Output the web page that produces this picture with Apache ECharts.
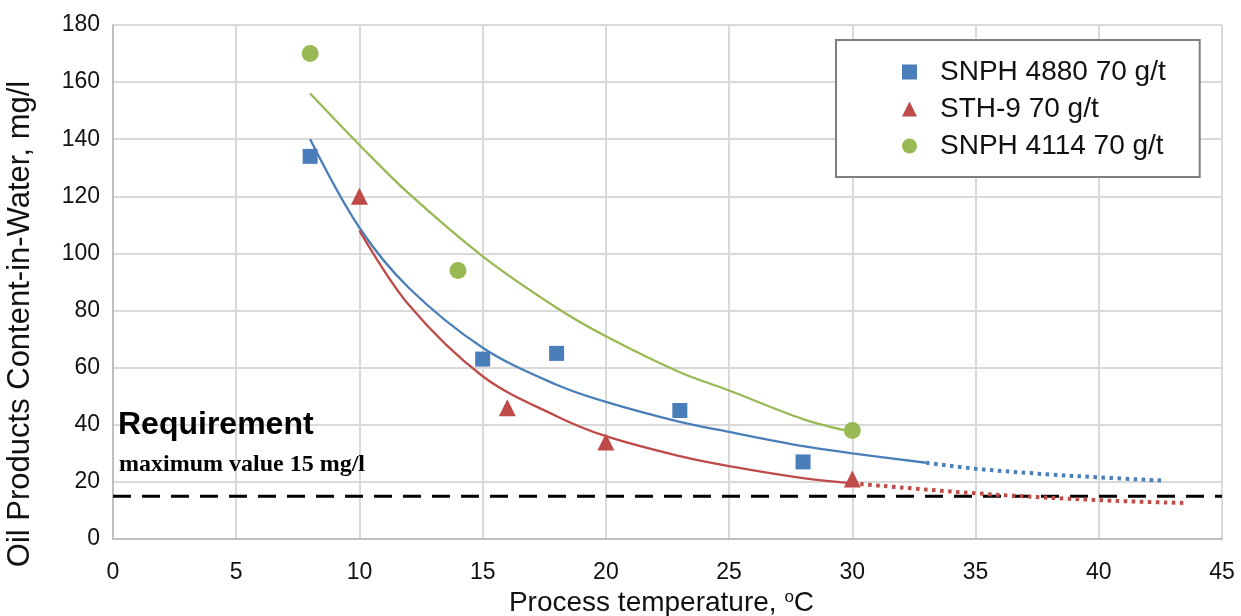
<!DOCTYPE html>
<html>
<head>
<meta charset="utf-8">
<script src="https://cdn.jsdelivr.net/npm/echarts@6/dist/echarts.min.js"></script>
<style>
html,body{margin:0;padding:0;background:#fff;}
#chart{width:1241px;height:616px;}
</style>
</head>
<body>
<div id="chart"></div>
<script>
// ---- data ----
const seriesNames = ['SNPH 4880 70 g/t', 'STH-9 70 g/t', 'SNPH 4114 70 g/t'];
const blueX = [8, 15, 18, 23, 28];
const blueY = [134, 63, 65, 45, 27];
const redX = [10, 16, 20, 30];
const redY = [120, 46, 34, 21];
const greenX = [8, 14, 30];
const greenY = [170, 94, 38];

// trend curves (x, y)
const blueTrendX = [8, 10, 12, 15, 18, 20, 23, 25, 28, 30, 33];
const blueTrendY = [140, 109, 88, 67, 54, 48, 41, 37.5, 32.5, 30, 26.7];
const blueTrendExtX = [33, 35, 38, 40, 42.7];
const blueTrendExtY = [26.7, 24.6, 22.6, 21.6, 20.4];

const redTrendX = [10, 12, 15, 18, 20, 23, 25, 28, 30];
const redTrendY = [108, 82, 57, 43, 36, 29, 25.5, 21.3, 19.5];
const redTrendExtX = [30, 35, 40, 43.6];
const redTrendExtY = [19.5, 16, 13.6, 12.6];

const greenTrendX = [8, 10, 12, 15, 18, 20, 23, 25, 28, 30];
const greenTrendY = [156, 138, 121, 99, 81, 71, 58.4, 52, 42, 37.5];

const limitX = [0, 45];
const limitY = [15, 15];

const xTicks = {min: 0, max: 45, interval: 5};
const yTicks = {min: 0, max: 180, interval: 20};

const xTitle = 'Process temperature, {sup|o}C';
const yTitle = 'Oil Products Content-in-Water, mg/l';
const noteLine1 = 'Requirement';
const noteLine2 = 'maximum value 15 mg/l';

// ---- helpers ----
const zip = (xs, ys) => xs.map((x, i) => [x, ys[i]]);
const colors = {blue: '#4A7EBB', red: '#BE4B48', green: '#98B954'};
const FONT = 'Liberation Sans, Arial, sans-serif';

const chart = echarts.init(document.getElementById('chart'), null, {renderer: 'canvas'});

function trend(name, xs, ys, color, dotted) {
  return {
    name: name,
    type: 'line',
    data: zip(xs, ys),
    smooth: 0.35,
    showSymbol: false,
    symbol: 'none',
    silent: true,
    z: 2,
    lineStyle: dotted
      ? {color: color, width: 4, type: [3.5, 4.5], cap: 'butt'}
      : {color: color, width: 2.3}
  };
}

const option = {
  backgroundColor: '#ffffff',
  animation: false,
  grid: {left: 113, right: 19, top: 25, bottom: 77, containLabel: false, outerBoundsMode: 'none'},
  legend: {
    data: [
      {name: seriesNames[0], icon: 'rect'},
      {name: seriesNames[1], icon: 'triangle'},
      {name: seriesNames[2], icon: 'circle'}
    ],
    orient: 'vertical',
    left: 836,
    top: 40,
    itemWidth: 15,
    itemHeight: 15,
    itemGap: 9,
    padding: [18, 34, 17, 66],
    borderColor: '#7f7f7f',
    borderWidth: 2,
    backgroundColor: '#ffffff',
    textStyle: {fontFamily: FONT, fontSize: 28, color: '#111', padding: [0, 0, 0, 18]}
  },
  xAxis: {
    type: 'value',
    min: xTicks.min, max: xTicks.max, interval: xTicks.interval,
    name: xTitle,
    nameLocation: 'middle',
    nameGap: 42,
    nameTextStyle: {
      fontFamily: FONT, fontSize: 28, color: '#111', padding: [0, 12, 0, 0],
      rich: {sup: {fontFamily: FONT, fontSize: 17, color: '#111', verticalAlign: 'top', padding: [0, 0, 10, 0]}}
    },
    axisLine: {show: true, lineStyle: {color: '#bfbfbf', width: 2}},
    axisTick: {show: false},
    axisLabel: {fontFamily: FONT, fontSize: 23, color: '#111', margin: 22},
    splitLine: {show: true, lineStyle: {color: '#d9d9d9', width: 2}}
  },
  yAxis: {
    type: 'value',
    min: yTicks.min, max: yTicks.max, interval: yTicks.interval,
    name: yTitle,
    nameLocation: 'middle',
    nameGap: 77,
    nameTextStyle: {fontFamily: FONT, fontSize: 31, color: '#111', padding: [0, 84, 0, 0]},
    axisLine: {show: true, lineStyle: {color: '#bfbfbf', width: 2}},
    axisTick: {show: false},
    axisLabel: {fontFamily: FONT, fontSize: 23, color: '#111', margin: 13},
    splitLine: {show: true, lineStyle: {color: '#d9d9d9', width: 2}}
  },
  series: [
    {
      name: 'limit', type: 'line', data: zip(limitX, limitY),
      symbol: 'none', silent: true, z: 1,
      lineStyle: {color: '#000', width: 3, type: [18, 11], cap: 'butt'}
    },
    trend('trend-blue', blueTrendX, blueTrendY, colors.blue, false),
    trend('trend-blue-ext', blueTrendExtX, blueTrendExtY, colors.blue, true),
    trend('trend-red', redTrendX, redTrendY, colors.red, false),
    trend('trend-red-ext', redTrendExtX, redTrendExtY, colors.red, true),
    trend('trend-green', greenTrendX, greenTrendY, colors.green, false),
    {
      name: seriesNames[0], type: 'scatter', data: zip(blueX, blueY),
      symbol: 'rect', symbolSize: 15, z: 5,
      itemStyle: {color: colors.blue, opacity: 1}
    },
    {
      name: seriesNames[1], type: 'scatter', data: zip(redX, redY),
      symbol: 'triangle', symbolSize: 17, z: 5,
      itemStyle: {color: colors.red, opacity: 1}
    },
    {
      name: seriesNames[2], type: 'scatter', data: zip(greenX, greenY),
      symbol: 'circle', symbolSize: 17, z: 5,
      itemStyle: {color: colors.green, opacity: 1}
    }
  ],
  graphic: [
    {
      type: 'text', left: 118, top: 409, z: 10,
      style: {text: noteLine1, fontFamily: FONT, fontWeight: 'bold', fontSize: 32, fill: '#000'}
    },
    {
      type: 'text', left: 119, top: 453, z: 10,
      style: {text: noteLine2, fontFamily: 'Liberation Serif, Times New Roman, serif', fontWeight: 'bold', fontSize: 24, fill: '#000'}
    }
  ]
};
chart.setOption(option);
</script>
</body>
</html>
